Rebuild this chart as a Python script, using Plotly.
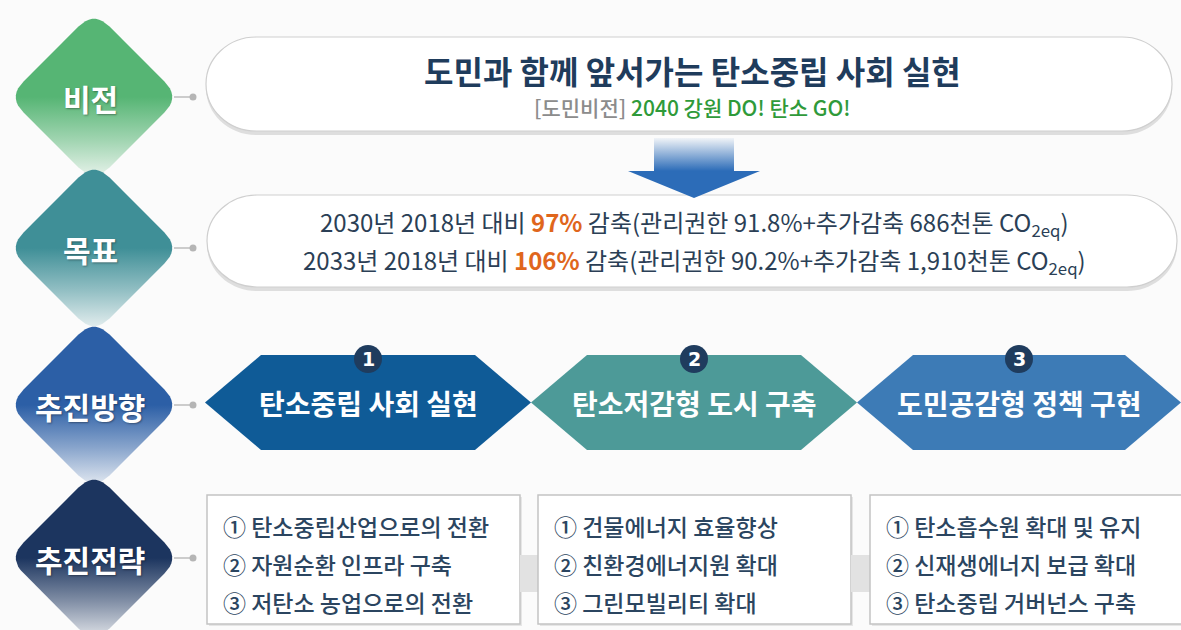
import numpy as np
import plotly.graph_objects as go

W, H = 1181, 630

# ---------------- content ----------------
row_labels = ["비전", "목표", "추진방향", "추진전략"]
row_colors = ["#56b574", "#3f8f97", "#2c5fa6", "#1c355f"]

vision_title = "도민과 함께 앞서가는 탄소중립 사회 실현"
vision_tag = "[도민비전]"
vision_slogan = "2040 강원 DO! 탄소 GO!"

goal_years = ["2030년", "2033년"]
goal_base = "2018년 대비"
goal_pct = ["97%", "106%"]
goal_mgmt = ["91.8%", "90.2%"]
goal_extra = ["686천톤", "1,910천톤"]

directions = ["탄소중립 사회 실현", "탄소저감형 도시 구축", "도민공감형 정책 구현"]
direction_nums = ["1", "2", "3"]
direction_colors = ["#0f5b97", "#4d9a98", "#3d7bb6"]

circled = ["①", "②", "③"]
strategies = [
    ["탄소중립산업으로의 전환", "자원순환 인프라 구축", "저탄소 농업으로의 전환"],
    ["건물에너지 효율향상", "친환경에너지원 확대", "그린모빌리티 확대"],
    ["탄소흡수원 확대 및 유지", "신재생에너지 보급 확대", "탄소중립 거버넌스 구축"],
]

# ---------------- layout constants ----------------
FONT = "Noto Sans CJK KR"
row_y = [97, 248, 405, 558]
dcx, dhalf, dround = 94, 86, 22
dot_x = 193


def rgba(hexc, a):
    hexc = hexc.lstrip("#")
    r, g, b = int(hexc[0:2], 16), int(hexc[2:4], 16), int(hexc[4:6], 16)
    return f"rgba({r},{g},{b},{a})"


def rounded_poly(verts, r, n=10):
    verts = np.asarray(verts, float)
    m = len(verts)
    xs, ys = [], []
    t = np.linspace(0, 1, n)
    for i in range(m):
        p = verts[i]
        a = verts[i - 1]
        b = verts[(i + 1) % m]
        da = (a - p) / np.linalg.norm(a - p)
        db = (b - p) / np.linalg.norm(b - p)
        p1 = p + da * r
        p2 = p + db * r
        pts = ((1 - t) ** 2)[:, None] * p1 + (2 * (1 - t) * t)[:, None] * p + (t ** 2)[:, None] * p2
        xs += list(pts[:, 0])
        ys += list(pts[:, 1])
    xs.append(xs[0])
    ys.append(ys[0])
    return xs, ys


def stadium(x0, x1, y0, y1, rx):
    ym = (y0 + y1) / 2
    ry = (y1 - y0) / 2
    k = 0.5523
    return (f"M {x0+rx},{y0} L {x1-rx},{y0} "
            f"C {x1-rx+k*rx},{y0} {x1},{ym-k*ry} {x1},{ym} "
            f"C {x1},{ym+k*ry} {x1-rx+k*rx},{y1} {x1-rx},{y1} "
            f"L {x0+rx},{y1} "
            f"C {x0+rx-k*rx},{y1} {x0},{ym+k*ry} {x0},{ym} "
            f"C {x0},{ym-k*ry} {x0+rx-k*rx},{y0} {x0+rx},{y0} Z")


fig = go.Figure()
shapes = []
annotations = []

# ---------------- left diamonds ----------------
for lab, col, cy in zip(row_labels, row_colors, row_y):
    verts = [(dcx, cy - dhalf), (dcx + dhalf, cy), (dcx, cy + dhalf), (dcx - dhalf, cy)]
    xs, ys = rounded_poly(verts, dround)
    fig.add_trace(go.Scatter(
        x=xs, y=ys, mode="lines", fill="toself", line=dict(width=0),
        fillgradient=dict(type="vertical",
                          colorscale=[[0, col], [0.5, col], [0.75, rgba(col, 0.55)], [1, rgba(col, 0.05)]],
                          start=cy - dhalf, stop=cy + dhalf),
        hoverinfo="skip", showlegend=False))
    annotations.append(dict(x=dcx - 4, y=cy + 1, text=f"<b>{lab}</b>", showarrow=False,
                            font=dict(family=FONT, size=30, color="white",
                                      shadow="1px 1px 2px rgba(0,0,0,0.35)")))
    shapes.append(dict(type="line", x0=dcx + dhalf - 6, x1=dot_x, y0=cy, y1=cy,
                       line=dict(color="#bdbdbd", width=1.5), layer="below"))
    shapes.append(dict(type="circle", x0=dot_x - 3.5, x1=dot_x + 3.5, y0=cy - 3.5, y1=cy + 3.5,
                       fillcolor="#b5b5b5", line=dict(width=0)))

# ---------------- vision pill ----------------
vx0, vx1, vy0, vy1 = 206, 1172, 37, 131
shapes.append(dict(type="path", path=stadium(vx0, vx1, vy0 + 4, vy1 + 4, 50),
                   fillcolor="#dedede", line=dict(width=0), layer="below"))
shapes.append(dict(type="path", path=stadium(vx0, vx1, vy0, vy1, 50),
                   fillcolor="white", line=dict(color="#cfcfcf", width=1.2), layer="below"))
annotations.append(dict(x=692, y=70, text=f"<b>{vision_title}</b>", showarrow=False,
                        font=dict(family=FONT, size=32, color="#1f3c5c")))
annotations.append(dict(x=692, y=107,
                        text=f"<span style='color:#8c8c8c'>{vision_tag}</span> "
                             f"<span style='color:#2f9a3a'>{vision_slogan}</span>",
                        showarrow=False, font=dict(family=FONT, size=21, weight=500)))

# ---------------- goal pill ----------------
gx0, gx1, gy0, gy1 = 207, 1177, 195, 287
shapes.append(dict(type="path", path=stadium(gx0, gx1, gy0 + 4, gy1 + 4, 50),
                   fillcolor="#dedede", line=dict(width=0), layer="below"))
shapes.append(dict(type="path", path=stadium(gx0, gx1, gy0, gy1, 50),
                   fillcolor="white", line=dict(color="#cfcfcf", width=1.2), layer="below"))

# ---------------- down arrow ----------------
ax = 694
arrow = [(ax - 40, 138), (ax + 40, 138), (ax + 40, 171), (ax + 66, 171), (ax, 198),
         (ax - 66, 171), (ax - 40, 171)]
axs = [p[0] for p in arrow] + [arrow[0][0]]
ays = [p[1] for p in arrow] + [arrow[0][1]]
fig.add_trace(go.Scatter(
    x=axs, y=ays, mode="lines", fill="toself", line=dict(width=0),
    fillgradient=dict(type="vertical",
                      colorscale=[[0, "rgba(44,108,184,0.05)"], [0.55, "#2c6cb8"], [1, "#2c6cb8"]],
                      start=138, stop=198),
    hoverinfo="skip", showlegend=False))

for i, yy in enumerate([223, 261]):
    txt = (f"{goal_years[i]} {goal_base} "
           f"<b><span style='color:#e0661c'>{goal_pct[i]}</span></b> "
           f"감축(관리권한 {goal_mgmt[i]}+추가감축 {goal_extra[i]} CO<sub>2eq</sub>)")
    annotations.append(dict(x=694, y=yy, text=txt, showarrow=False,
                            font=dict(family=FONT, size=24, color="#2b3f56")))

# ---------------- direction hexagons ----------------
hx_edges = [205, 531, 857, 1181]
hy0, hy1 = 355, 450
hyc = (hy0 + hy1) / 2
inset = 56
for i, (name, num, col) in enumerate(zip(directions, direction_nums, direction_colors)):
    xl, xr = hx_edges[i], hx_edges[i + 1]
    path = (f"M {xl},{hyc} L {xl+inset},{hy0} L {xr-inset},{hy0} L {xr},{hyc} "
            f"L {xr-inset},{hy1} L {xl+inset},{hy1} Z")
    shapes.append(dict(type="path", path=path, fillcolor=col, line=dict(width=0), layer="below"))
    cx = (xl + xr) / 2
    annotations.append(dict(x=cx, y=hyc, text=f"<b>{name}</b>", showarrow=False,
                            font=dict(family=FONT, size=28, color="white")))
    shapes.append(dict(type="circle", x0=cx - 14, x1=cx + 14, y0=hy0 - 10, y1=hy0 + 18,
                       fillcolor="#1f3c5e", line=dict(width=0)))
    annotations.append(dict(x=cx, y=hy0 + 4, text=f"<b>{num}</b>", showarrow=False,
                            font=dict(family="DejaVu Sans", size=19, color="white")))

# ---------------- strategy boxes ----------------
bx0 = [207, 538, 870]
bw = 313
by0, by1 = 495, 624
line_y = [526, 564, 602]
for i, items in enumerate(strategies):
    x0 = bx0[i]
    if i > 0:
        shapes.append(dict(type="rect", x0=bx0[i - 1] + bw, x1=x0, y0=555, y1=592,
                           fillcolor="#e2e2e2", line=dict(width=0), layer="below"))
    shapes.append(dict(type="rect", x0=x0 + 2, x1=x0 + bw + 2, y0=by0 + 2, y1=by1 + 2,
                       fillcolor="#e6e6e6", line=dict(width=0), layer="below"))
    shapes.append(dict(type="rect", x0=x0, x1=x0 + bw, y0=by0, y1=by1,
                       fillcolor="white", line=dict(color="#c4c4c4", width=1.5), layer="below"))
    for j, it in enumerate(items):
        annotations.append(dict(x=x0 + 14, y=line_y[j], xanchor="left",
                                text=f"{circled[j]} {it}", showarrow=False,
                                font=dict(family=FONT, size=23, color="#2b4560", weight=500)))

fig.update_layout(
    width=W, height=H,
    margin=dict(l=0, r=0, t=0, b=0),
    paper_bgcolor="#fbfbfb", plot_bgcolor="#fbfbfb",
    xaxis=dict(range=[0, W], visible=False, fixedrange=True),
    yaxis=dict(range=[H, 0], visible=False, fixedrange=True),
    shapes=shapes, annotations=annotations,
    showlegend=False,
)
fig.write_html("out.html", config={"displayModeBar": False},
               post_script="document.body.style.margin='0';document.body.style.padding='0';")
